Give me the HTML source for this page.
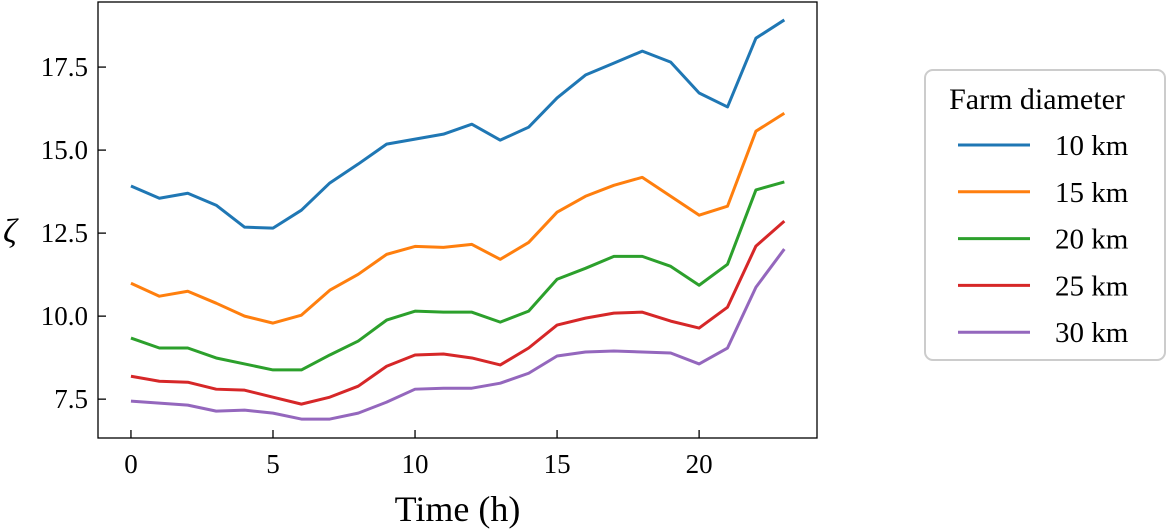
<!DOCTYPE html>
<html><head><meta charset="utf-8"><style>
body{margin:0;background:#fff}
svg{display:block;font-family:"Liberation Serif",serif}
</style></head><body>
<svg id="chart" width="1169" height="531"></svg>
<script>
const hours=[0,1,2,3,4,5,6,7,8,9,10,11,12,13,14,15,16,17,18,19,20,21,22,23];
const d10=[13.92,13.55,13.70,13.34,12.68,12.65,13.19,14.01,14.58,15.18,15.33,15.48,15.78,15.30,15.69,16.57,17.26,17.62,17.98,17.65,16.72,16.30,18.37,18.92];
const d15=[10.99,10.60,10.75,10.39,10.00,9.79,10.03,10.78,11.26,11.86,12.10,12.07,12.16,11.71,12.22,13.13,13.61,13.94,14.18,13.61,13.04,13.31,15.57,16.11];
const d20=[9.34,9.04,9.04,8.74,8.56,8.38,8.38,8.83,9.25,9.88,10.15,10.12,10.12,9.82,10.15,11.11,11.44,11.80,11.80,11.50,10.93,11.56,13.80,14.04];
const d25=[8.19,8.04,8.01,7.80,7.77,7.56,7.35,7.56,7.89,8.49,8.83,8.86,8.74,8.53,9.04,9.73,9.94,10.09,10.12,9.85,9.64,10.27,12.11,12.86];
const d30=[7.44,7.38,7.32,7.14,7.17,7.08,6.90,6.90,7.08,7.41,7.80,7.83,7.83,7.98,8.28,8.80,8.92,8.95,8.92,8.89,8.56,9.04,10.87,12.02];
const seriesLabels=["10 km","15 km","20 km","25 km","30 km"];
const xTicks=[0,5,10,15,20];
const yTicks=[7.5,10.0,12.5,15.0,17.5];

const NS="http://www.w3.org/2000/svg";
const svg=document.getElementById('chart');
const L=98,R=817,T=2,B=438;
const xMin=-1.16,xMax=24.15,yMin=6.33,yMax=19.46;
const xs=v=>L+(v-xMin)/(xMax-xMin)*(R-L);
const ys=v=>B-(v-yMin)/(yMax-yMin)*(B-T);
function mk(tag,attrs,parent){const e=document.createElementNS(NS,tag);for(const k in attrs)e.setAttribute(k,attrs[k]);(parent||svg).appendChild(e);return e;}

const colors=["#1f77b4","#ff7f0e","#2ca02c","#d62728","#9467bd"];
const data=[d10,d15,d20,d25,d30];
data.forEach((s,i)=>{
  const p=mk('polyline',{points:s.map((v,j)=>xs(hours[j])+','+ys(v)).join(' '),fill:'none',stroke:colors[i],'stroke-width':3,'stroke-linejoin':'round'});
  
  
});
const frame=mk('rect',{x:L,y:T,width:R-L,height:B-T,fill:'none',stroke:'#000','stroke-width':1.3});


xTicks.forEach(t=>{
  const x=xs(t);
  mk('line',{x1:x,x2:x,y1:B,y2:B-8,stroke:'#000','stroke-width':1.3});
  const tx=mk('text',{x:x,y:B+35,'font-size':27,'text-anchor':'middle'});tx.textContent=t;
  
  
});
yTicks.forEach(t=>{
  const y=ys(t);
  mk('line',{x1:L,x2:L+8,y1:y,y2:y,stroke:'#000','stroke-width':1.3});
  const tx=mk('text',{x:L-10,y:y+9,'font-size':27,'text-anchor':'end'});tx.textContent=t.toFixed(1);
  
  
});
const xl=mk('text',{x:(L+R)/2,y:521,'font-size':36,'text-anchor':'middle'});xl.textContent='Time (h)';


const yl=mk('text',{x:3,y:242,'font-size':34,'font-style':'italic'});yl.textContent='ζ';



const lg=mk('g',{});


mk('rect',{x:925,y:70,width:240,height:290,rx:8,fill:'#fff',stroke:'#ccc','stroke-width':2},lg);
const lt=mk('text',{x:1037,y:109,'font-size':30,'text-anchor':'middle'},lg);lt.textContent='Farm diameter';


seriesLabels.forEach((s,i)=>{
  const y=145+i*46.8;
  const g=mk('g',{},lg);
  
  
  mk('line',{x1:958,x2:1030,y1:y,y2:y,stroke:colors[i],'stroke-width':3},g);
  const t=mk('text',{x:1055,y:y+10,'font-size':29},g);t.textContent=s;
});
</script>
</body></html>
